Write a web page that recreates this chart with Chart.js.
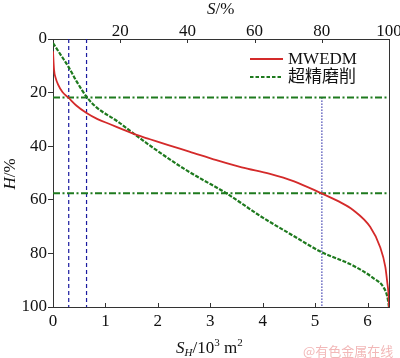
<!DOCTYPE html>
<html>
<head>
<meta charset="utf-8">
<script src="https://cdn.jsdelivr.net/npm/chart.js@4"></script>
<style>
html,body{margin:0;padding:0;background:#fff;}
#wrap{width:400px;height:358px;position:relative;}
</style>
</head>
<body>
<div id="wrap"><canvas id="c" width="400" height="358"></canvas></div>
<script>
// ---- data (S_H in 10^3 m^2, H in %) ----
const seriesNames = ['MWEDM', '超精磨削'];
const redX = [0, 0.02, 0.05, 0.10, 0.18, 0.29, 0.45, 0.64, 0.85, 1.09, 1.35, 1.58, 1.85, 2.2, 2.6, 3.12, 3.6, 4.14, 4.6, 5.10, 5.45, 5.73, 6.05, 6.24, 6.34, 6.38, 6.40, 6.41];
const redH = [4.6, 11.5, 14.5, 17.1, 19.8, 21.8, 24.9, 27.6, 29.9, 31.8, 33.9, 35.7, 37.4, 39.6, 42.0, 45.2, 47.9, 50.3, 53.1, 57.4, 60.6, 63.9, 70.1, 77.6, 85.0, 91.3, 95.0, 100];
const greenX = [0, 0.15, 0.29, 0.45, 0.65, 0.83, 1.22, 1.56, 1.91, 2.49, 2.81, 3.31, 3.95, 4.14, 4.6, 5.10, 5.73, 6.11, 6.30, 6.38, 6.41];
const greenH = [1.5, 6.0, 10.2, 15.8, 21.8, 25.5, 30.6, 35.6, 40.6, 48.3, 52.0, 57.6, 66.0, 68.3, 73.6, 79.3, 84.6, 89.2, 92.5, 96.3, 100];
const hLevels = [21.8, 57.6];          // horizontal reference lines (H %)
const vDashed = [0.30, 0.64];          // vertical dashed lines (S_H)
const vDotted = 5.13;                  // vertical dotted line (S_H)
const xMax = 6.41;
const xTicksBottom = [0, 1, 2, 3, 4, 5, 6];
const xTicksTop = [20, 40, 60, 80, 100];
const yTicks = [0, 20, 40, 60, 80, 100];

const RED = '#d42a2a', GREEN = '#1e7a1e', BLUE = '#1a1aa0';
const SERIF = "'Liberation Serif', 'Noto Sans CJK SC', serif";

const pts = (xs, ys) => xs.map((x, i) => ({x: x, y: ys[i]}));

const datasets = [
  {label: seriesNames[0], data: pts(redX, redH), borderColor: RED, borderWidth: 1.8, cubicInterpolationMode: 'monotone'},
  {label: seriesNames[1], data: pts(greenX, greenH), borderColor: GREEN, borderWidth: 2.2, borderDash: [4, 1.5], cubicInterpolationMode: 'monotone'}
];
hLevels.forEach(h => datasets.push({label: '_h', data: [{x: 0, y: h}, {x: xMax, y: h}], borderColor: GREEN, borderWidth: 2, borderDash: [7, 2.5, 2, 2.5]}));
vDashed.forEach(v => datasets.push({label: '_v', data: [{x: v, y: 0}, {x: v, y: 100}], borderColor: BLUE, borderWidth: 1.2, borderDash: [4, 3]}));
datasets.push({label: '_v', data: [{x: vDotted, y: hLevels[0]}, {x: vDotted, y: 100}], borderColor: BLUE, borderWidth: 1, borderDash: [1.5, 1.5]});
datasets.forEach(d => { d.showLine = true; d.pointRadius = 0; d.fill = false; });

const deco = {
  id: 'deco',
  afterDraw(chart) {
    const ctx = chart.ctx, a = chart.chartArea;
    const sx = chart.scales.x, sx2 = chart.scales.x2;
    ctx.save();
    // inward tick marks on bottom and top axes
    ctx.strokeStyle = '#333'; ctx.lineWidth = 1;
    xTicksBottom.forEach(t => { const p = Math.round(sx.getPixelForValue(t)) + 0.5; ctx.beginPath(); ctx.moveTo(p, a.bottom); ctx.lineTo(p, a.bottom - 4); ctx.stroke(); });
    xTicksTop.forEach(t => { const p = Math.round(sx2.getPixelForValue(t)) + 0.5; ctx.beginPath(); ctx.moveTo(p, a.top); ctx.lineTo(p, a.top + 4); ctx.stroke(); });
    // legend
    const items = [[chart.data.datasets[0], 59], [chart.data.datasets[1], 77]];
    items.forEach(([d, y]) => {
      ctx.strokeStyle = d.borderColor; ctx.lineWidth = 2;
      ctx.setLineDash(d.borderDash ? [3.5, 2] : []);
      ctx.beginPath(); ctx.moveTo(250, y); ctx.lineTo(283, y); ctx.stroke();
      ctx.setLineDash([]);
      ctx.fillStyle = '#111'; ctx.font = '17px ' + SERIF; ctx.textBaseline = 'middle';
      ctx.fillText(d.label, 288, y + 1);
    });
    ctx.textBaseline = 'alphabetic'; ctx.fillStyle = '#111';
    // top title S/%
    let x = 207;
    ctx.font = 'italic 17px ' + SERIF; ctx.fillText('S', x, 14); x += ctx.measureText('S').width;
    ctx.font = '17px ' + SERIF; ctx.fillText('/%', x, 14);
    // left title H/%
    ctx.save(); ctx.translate(15, 174); ctx.rotate(-Math.PI / 2);
    ctx.font = 'italic 17px ' + SERIF; let w1 = ctx.measureText('H').width;
    ctx.font = '17px ' + SERIF; let w2 = ctx.measureText('/%').width;
    let x0 = -(w1 + w2) / 2;
    ctx.font = 'italic 17px ' + SERIF; ctx.fillText('H', x0, 0);
    ctx.font = '17px ' + SERIF; ctx.fillText('/%', x0 + w1, 0);
    ctx.restore();
    // bottom title S_H/10^3 m^2
    const by = 353; x = 176;
    ctx.font = 'italic 17px ' + SERIF; ctx.fillText('S', x, by); x += ctx.measureText('S').width;
    ctx.font = 'italic 11px ' + SERIF; ctx.fillText('H', x, by + 3); x += ctx.measureText('H').width;
    ctx.font = '17px ' + SERIF; ctx.fillText('/10', x, by); x += ctx.measureText('/10').width;
    ctx.font = '11px ' + SERIF; ctx.fillText('3', x, by - 7); x += ctx.measureText('3').width;
    ctx.font = '17px ' + SERIF; ctx.fillText(' m', x, by); x += ctx.measureText(' m').width;
    ctx.font = '11px ' + SERIF; ctx.fillText('2', x, by - 7);
    // watermark
    ctx.fillStyle = '#f2b8b8'; ctx.font = "13px 'Noto Sans CJK SC'";
    ctx.fillText('@有色金属在线', 303, 356);
    ctx.restore();
  }
};

const tickFont = {family: SERIF, size: 17};
new Chart(document.getElementById('c'), {
  type: 'scatter',
  data: {datasets: datasets},
  options: {
    responsive: false, animation: false, devicePixelRatio: 1,
    layout: {padding: 0},
    plugins: {legend: {display: false}, tooltip: {enabled: false}},
    scales: {
      x: {type: 'linear', position: 'bottom', min: 0, max: xMax,
          afterBuildTicks: s => { s.ticks = xTicksBottom.map(v => ({value: v})); },
          ticks: {font: tickFont, color: '#111', padding: 4, maxRotation: 0},
          grid: {display: false, drawTicks: false}, border: {display: true, color: '#333', width: 1},
          afterFit: s => { s.height = 51; }},
      x2: {type: 'linear', position: 'top', min: 0, max: 100,
          afterBuildTicks: s => { s.ticks = xTicksTop.map(v => ({value: v})); },
          ticks: {font: tickFont, color: '#111', padding: -3, maxRotation: 0},
          grid: {display: false, drawTicks: false}, border: {display: true, color: '#333', width: 1},
          afterFit: s => { s.height = 39; }},
      y: {type: 'linear', position: 'left', reverse: true, min: 0, max: 100,
          afterBuildTicks: s => { s.ticks = yTicks.map(v => ({value: v})); },
          ticks: {font: tickFont, color: '#111', padding: 1},
          grid: {drawOnChartArea: false, drawTicks: true, tickLength: 5, color: '#333'},
          border: {display: true, color: '#333', width: 1},
          afterFit: s => { s.width = 53; }},
      y2: {type: 'linear', position: 'right', reverse: true, min: 0, max: 100,
          ticks: {display: false}, grid: {display: false, drawTicks: false},
          border: {display: true, color: '#333', width: 1},
          afterFit: s => { s.width = 11; }}
    }
  },
  plugins: [deco]
});
</script>
</body>
</html>
